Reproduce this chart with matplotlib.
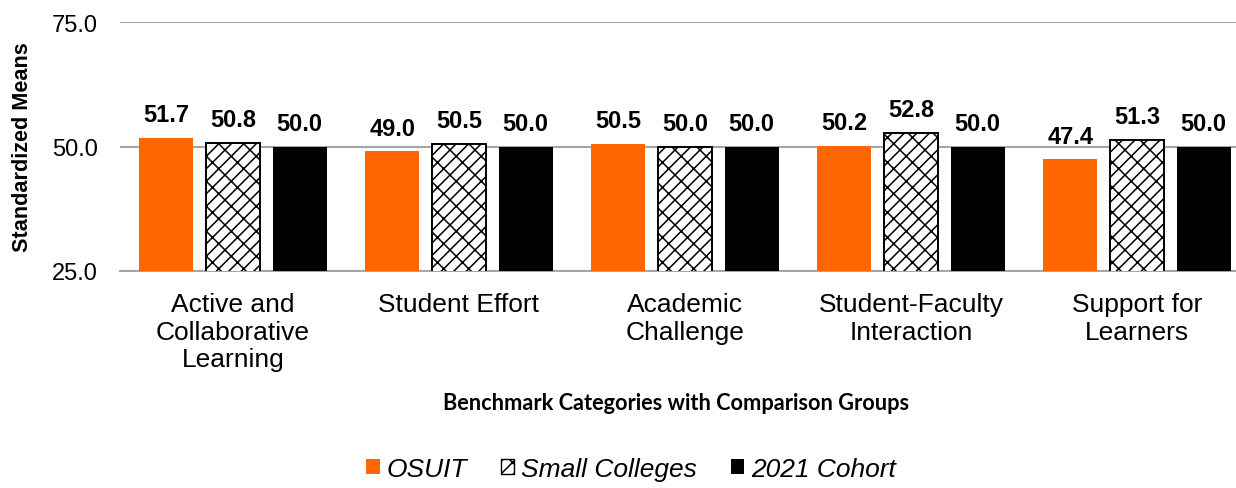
import warnings
import matplotlib
matplotlib.use("Agg")
import matplotlib.pyplot as plt
import matplotlib.hatch as mhatch
from matplotlib.patches import Patch
from matplotlib.path import Path
import numpy as np

# Chart data
categories = ["Active and\nCollaborative\nLearning", "Student Effort",
              "Academic\nChallenge", "Student-Faculty\nInteraction",
              "Support for\nLearners"]
series_names = ["OSUIT", "Small Colleges", "2021 Cohort"]
osuit = [51.7, 49.0, 50.5, 50.2, 47.4]
small_colleges = [50.8, 50.5, 50.0, 52.8, 51.3]
cohort_2021 = [50.0, 50.0, 50.0, 50.0, 50.0]
y_ticks = [25.0, 50.0, 75.0]

ORANGE = "#FF6600"
GRID = "#A6A6A6"


class BrickHatch(mhatch.HatchPatternBase):
    """Diagonal brick pattern (like Excel's), used for the 'b' hatch character."""

    def __init__(self, hatch, density):
        self.segs = []
        if "b" in hatch:
            n = 8
            for k in range(-n, n + 1):
                c = k / n
                # long '/' lines
                self.segs.append(((-1.0, -1.0 + c), (2.0, 2.0 + c)))
                # short '\' joints, staggered every other strip
                for j in range(-n, 2 * n):
                    x0 = j / n + (k % 2) / (2 * n)
                    self.segs.append(((x0, x0 + c),
                                      (x0 + 1 / (2 * n), x0 + c - 1 / (2 * n))))
        self.num_vertices = 2 * len(self.segs)

    def set_vertices_and_codes(self, vertices, codes):
        vertices[:] = np.array(self.segs, dtype=float).reshape(-1, 2)
        codes[0::2] = Path.MOVETO
        codes[1::2] = Path.LINETO


mhatch._hatch_types.append(BrickHatch)
warnings.filterwarnings("ignore", message=".*hatch must consist.*")

plt.rcParams["font.family"] = ["Liberation Sans", "DejaVu Sans"]
plt.rcParams["hatch.linewidth"] = 1.1

W, H = 1236, 489
fig = plt.figure(figsize=(W / 100, H / 100), dpi=100)
# axes spans from x=120px to the right edge, y from 23px to 272px
ax = fig.add_axes([120 / W, (H - 272) / H, (W - 120) / W, 249 / H])

x = np.arange(len(categories))
width = 0.239
offset = 0.295

b1 = ax.bar(x - offset, osuit, width, color=ORANGE, edgecolor="none", zorder=3)
b2 = ax.bar(x, small_colleges, width, color="white", edgecolor="black",
            hatch="b", linewidth=1.4, zorder=3)
b3 = ax.bar(x + offset, cohort_2021, width, color="black", edgecolor="none", zorder=3)

for bars, vals in [(b1, osuit), (b2, small_colleges), (b3, cohort_2021)]:
    for rect, v in zip(bars, vals):
        ax.annotate(f"{v:.1f}", (rect.get_x() + rect.get_width() / 2, v),
                    xytext=(0, 12), textcoords="offset points",
                    ha="center", va="baseline", fontsize=17, fontweight="bold")

ax.set_ylim(25, 75)
ax.set_xlim(-0.5, 4 + (W - 1137) / 226)
ax.set_yticks(y_ticks)
ax.set_yticklabels([f"{t:.1f}" for t in y_ticks], fontsize=17)
ax.set_xticks(x)
ax.set_xticklabels(categories, fontsize=19, linespacing=1.2)
ax.tick_params(axis="y", length=0, pad=16)
ax.tick_params(axis="x", length=0, pad=15)
ax.yaxis.grid(True, color=GRID, linewidth=1.5, zorder=0)
for side in ["left", "right", "top"]:
    ax.spines[side].set_visible(False)
ax.spines["bottom"].set_color(GRID)
ax.spines["bottom"].set_linewidth(1.5)

fig.text(23 / W, (H - 147) / H, "Standardized Means", rotation=90,
         ha="center", va="center", fontsize=15.6, fontweight="bold")
fig.text(676 / W, (H - 404) / H, "Benchmark Categories with Comparison Groups",
         ha="center", va="center", fontsize=15.7, fontweight="bold", family="Lato")

handles = [Patch(facecolor=ORANGE, edgecolor="none"),
           Patch(facecolor="white", edgecolor="black", hatch="b", linewidth=1),
           Patch(facecolor="black", edgecolor="none")]
fig.legend(handles, series_names, loc="center", bbox_to_anchor=(631 / W, (H - 470) / H),
           ncol=3, frameon=False, prop={"size": 19, "style": "italic"},
           handlelength=0.5, handleheight=0.5, handletextpad=0.25, columnspacing=1.3)

fig.savefig("out.png", dpi=100)
